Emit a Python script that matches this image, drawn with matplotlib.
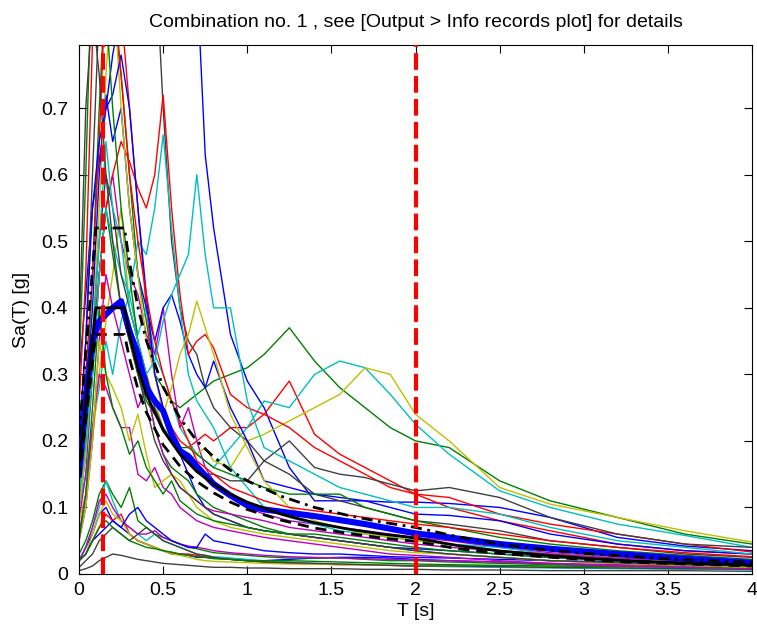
import matplotlib
matplotlib.use("Agg")
import matplotlib.pyplot as plt
import numpy as np

plt.rcParams['font.family'] = ['Liberation Sans', 'DejaVu Sans']

# Period grid of the record spectra [s]
T = [0, .04, .08, .12, .16, .2, .25, .3, .35, .4, .45, .5, .55, .6, .65, .7, .75, .8,
     .9, 1.0, 1.1, 1.25, 1.4, 1.55, 1.7, 1.85, 2.0, 2.2, 2.5, 2.8, 3.2, 3.6, 4.0]

# Record spectra Sa(T) [g]  (values > 0.8 are clipped by the axes)
rec_b1 = [0.30, 0.42, 0.55, 0.62, 0.70, 0.78, 0.85, 0.95, 1.05, 1.10, 1.20, 1.30, 1.35, 1.30, 1.15, 0.90, 0.63, 0.52, 0.36, 0.29, 0.25, 0.16, 0.11, 0.11, 0.11, 0.108, 0.108, 0.106, 0.10, 0.085, 0.055, 0.042, 0.035]
rec_g1 = [0.15, 0.25, 0.45, 0.70, 0.90, 0.85, 0.75, 0.60, 0.45, 0.38, 0.30, 0.28, 0.26, 0.25, 0.26, 0.27, 0.28, 0.29, 0.30, 0.31, 0.33, 0.37, 0.32, 0.28, 0.25, 0.22, 0.20, 0.19, 0.14, 0.11, 0.085, 0.06, 0.045]
rec_r1 = [0.20, 0.30, 0.45, 0.65, 0.90, 1.00, 0.85, 0.70, 0.55, 0.40, 0.30, 0.25, 0.22, 0.20, 0.19, 0.20, 0.21, 0.20, 0.22, 0.22, 0.24, 0.29, 0.21, 0.18, 0.16, 0.14, 0.12, 0.10, 0.08, 0.065, 0.045, 0.035, 0.03]
rec_c1 = [0.10, 0.15, 0.22, 0.28, 0.35, 0.30, 0.38, 0.42, 0.36, 0.40, 0.33, 0.30, 0.26, 0.22, 0.20, 0.18, 0.17, 0.16, 0.19, 0.22, 0.26, 0.25, 0.30, 0.32, 0.31, 0.27, 0.225, 0.18, 0.125, 0.10, 0.075, 0.058, 0.04]
rec_m1 = [0.08, 0.15, 0.30, 0.45, 0.55, 0.60, 0.50, 0.45, 0.42, 0.36, 0.33, 0.40, 0.30, 0.22, 0.25, 0.20, 0.16, 0.14, 0.12, 0.10, 0.09, 0.08, 0.075, 0.07, 0.065, 0.06, 0.055, 0.05, 0.04, 0.032, 0.025, 0.02, 0.017]
rec_y1 = [0.08, 0.12, 0.20, 0.30, 0.38, 0.45, 0.55, 0.40, 0.35, 0.30, 0.26, 0.22, 0.20, 0.18, 0.17, 0.18, 0.19, 0.17, 0.16, 0.20, 0.21, 0.23, 0.25, 0.27, 0.31, 0.30, 0.24, 0.20, 0.13, 0.105, 0.085, 0.065, 0.048]
rec_k1 = [0.20, 0.35, 0.60, 0.85, 0.95, 0.90, 0.85, 0.80, 0.90, 1.00, 0.95, 0.70, 0.50, 0.40, 0.35, 0.33, 0.28, 0.25, 0.22, 0.20, 0.17, 0.15, 0.12, 0.11, 0.10, 0.09, 0.08, 0.075, 0.065, 0.05, 0.04, 0.03, 0.025]
rec_b2 = [0.15, 0.25, 0.40, 0.60, 0.72, 0.65, 0.70, 0.55, 0.45, 0.40, 0.35, 0.40, 0.42, 0.38, 0.33, 0.30, 0.28, 0.32, 0.25, 0.20, 0.14, 0.13, 0.12, 0.115, 0.11, 0.10, 0.09, 0.088, 0.08, 0.06, 0.045, 0.035, 0.03]
rec_g2 = [0.10, 0.18, 0.30, 0.45, 0.55, 0.48, 0.40, 0.35, 0.30, 0.26, 0.24, 0.22, 0.20, 0.19, 0.19, 0.18, 0.17, 0.16, 0.15, 0.14, 0.13, 0.12, 0.12, 0.12, 0.10, 0.09, 0.08, 0.07, 0.055, 0.045, 0.035, 0.028, 0.022]
rec_r2 = [0.18, 0.25, 0.35, 0.45, 0.55, 0.60, 0.65, 0.62, 0.58, 0.55, 0.60, 0.72, 0.55, 0.42, 0.33, 0.35, 0.36, 0.34, 0.27, 0.25, 0.24, 0.22, 0.19, 0.17, 0.15, 0.13, 0.12, 0.115, 0.09, 0.075, 0.06, 0.045, 0.033]
rec_c2 = [0.10, 0.18, 0.30, 0.45, 0.55, 0.50, 0.45, 0.42, 0.50, 0.48, 0.55, 0.66, 0.52, 0.40, 0.30, 0.26, 0.24, 0.22, 0.16, 0.13, 0.10, 0.085, 0.075, 0.065, 0.06, 0.055, 0.05, 0.045, 0.04, 0.03, 0.025, 0.02, 0.017]
rec_m2 = [0.06, 0.12, 0.22, 0.30, 0.28, 0.25, 0.22, 0.22, 0.15, 0.14, 0.16, 0.13, 0.12, 0.10, 0.09, 0.08, 0.075, 0.07, 0.065, 0.06, 0.055, 0.05, 0.045, 0.04, 0.035, 0.03, 0.028, 0.025, 0.02, 0.016, 0.012, 0.01, 0.008]
rec_y2 = [0.10, 0.18, 0.35, 0.55, 0.75, 0.90, 0.70, 0.55, 0.45, 0.35, 0.30, 0.24, 0.28, 0.33, 0.36, 0.41, 0.37, 0.33, 0.24, 0.19, 0.14, 0.10, 0.08, 0.07, 0.06, 0.055, 0.05, 0.045, 0.035, 0.03, 0.025, 0.02, 0.018]
rec_k2 = [0.12, 0.20, 0.35, 0.50, 0.60, 0.55, 0.45, 0.40, 0.35, 0.30, 0.25, 0.22, 0.20, 0.18, 0.17, 0.16, 0.15, 0.15, 0.14, 0.14, 0.17, 0.20, 0.16, 0.15, 0.145, 0.135, 0.125, 0.13, 0.115, 0.085, 0.06, 0.045, 0.04]
rec_b3 = [0.20, 0.35, 0.55, 0.65, 0.70, 0.72, 0.78, 0.70, 0.55, 0.42, 0.30, 0.25, 0.20, 0.18, 0.15, 0.12, 0.10, 0.09, 0.08, 0.07, 0.065, 0.06, 0.055, 0.05, 0.045, 0.04, 0.038, 0.035, 0.03, 0.025, 0.02, 0.017, 0.015]
rec_g3 = [0.30, 0.60, 0.95, 1.00, 0.85, 0.70, 0.55, 0.45, 0.35, 0.28, 0.22, 0.18, 0.16, 0.15, 0.14, 0.12, 0.11, 0.10, 0.09, 0.08, 0.07, 0.06, 0.055, 0.05, 0.045, 0.04, 0.035, 0.03, 0.025, 0.02, 0.016, 0.013, 0.01]
rec_r3 = [0.25, 0.45, 0.80, 0.95, 1.10, 0.90, 0.75, 0.60, 0.50, 0.42, 0.35, 0.30, 0.26, 0.23, 0.20, 0.17, 0.16, 0.15, 0.13, 0.12, 0.11, 0.10, 0.095, 0.09, 0.085, 0.08, 0.075, 0.07, 0.06, 0.05, 0.04, 0.032, 0.026]
rec_c3 = [0.12, 0.20, 0.35, 0.50, 0.65, 0.55, 0.50, 0.40, 0.35, 0.30, 0.32, 0.38, 0.42, 0.45, 0.48, 0.60, 0.48, 0.40, 0.40, 0.26, 0.19, 0.17, 0.15, 0.13, 0.12, 0.11, 0.10, 0.10, 0.09, 0.07, 0.05, 0.04, 0.03]
rec_m3 = [0.05, 0.10, 0.20, 0.35, 0.45, 0.40, 0.35, 0.30, 0.25, 0.28, 0.22, 0.18, 0.15, 0.13, 0.12, 0.11, 0.10, 0.095, 0.09, 0.085, 0.08, 0.07, 0.065, 0.06, 0.055, 0.05, 0.045, 0.04, 0.035, 0.03, 0.024, 0.02, 0.016]
rec_y3 = [0.05, 0.10, 0.20, 0.35, 0.30, 0.28, 0.25, 0.20, 0.24, 0.18, 0.13, 0.14, 0.15, 0.14, 0.12, 0.10, 0.09, 0.08, 0.07, 0.065, 0.06, 0.055, 0.05, 0.045, 0.04, 0.035, 0.032, 0.03, 0.025, 0.02, 0.016, 0.013, 0.01]
rec_k3 = [0.35, 0.70, 0.85, 0.75, 0.60, 0.50, 0.40, 0.35, 0.30, 0.25, 0.20, 0.17, 0.15, 0.13, 0.12, 0.11, 0.10, 0.09, 0.08, 0.07, 0.065, 0.06, 0.055, 0.05, 0.045, 0.04, 0.035, 0.03, 0.025, 0.02, 0.017, 0.014, 0.012]
rec_g4 = [0.05, 0.12, 0.25, 0.40, 0.30, 0.25, 0.22, 0.18, 0.20, 0.16, 0.14, 0.12, 0.14, 0.11, 0.10, 0.09, 0.085, 0.08, 0.075, 0.07, 0.065, 0.06, 0.06, 0.055, 0.05, 0.045, 0.04, 0.035, 0.03, 0.025, 0.02, 0.016, 0.014]
lo_b = [0.02, 0.04, 0.06, 0.09, 0.10, 0.08, 0.07, 0.06, 0.05, 0.045, 0.04, 0.035, 0.03, 0.03, 0.028, 0.025, 0.025, 0.024, 0.022, 0.02, 0.02, 0.022, 0.024, 0.025, 0.025, 0.024, 0.022, 0.02, 0.018, 0.015, 0.012, 0.01, 0.009]
lo_g = [0.03, 0.05, 0.08, 0.12, 0.14, 0.12, 0.10, 0.13, 0.08, 0.07, 0.06, 0.055, 0.05, 0.045, 0.04, 0.038, 0.035, 0.032, 0.03, 0.028, 0.026, 0.024, 0.024, 0.024, 0.022, 0.02, 0.02, 0.018, 0.016, 0.014, 0.012, 0.01, 0.009]
lo_r = [0.02, 0.03, 0.05, 0.07, 0.09, 0.08, 0.09, 0.06, 0.05, 0.045, 0.04, 0.035, 0.032, 0.03, 0.03, 0.028, 0.026, 0.024, 0.022, 0.02, 0.018, 0.016, 0.015, 0.014, 0.014, 0.013, 0.012, 0.012, 0.011, 0.01, 0.009, 0.008, 0.007]
lo_c = [0.02, 0.04, 0.07, 0.10, 0.14, 0.11, 0.08, 0.07, 0.06, 0.05, 0.06, 0.05, 0.045, 0.04, 0.035, 0.03, 0.028, 0.026, 0.024, 0.022, 0.02, 0.018, 0.016, 0.015, 0.014, 0.013, 0.012, 0.011, 0.01, 0.009, 0.008, 0.007, 0.006]
lo_m = [0.02, 0.04, 0.07, 0.11, 0.12, 0.10, 0.08, 0.07, 0.06, 0.06, 0.065, 0.055, 0.05, 0.045, 0.042, 0.04, 0.038, 0.035, 0.032, 0.03, 0.028, 0.026, 0.025, 0.024, 0.023, 0.022, 0.021, 0.02, 0.018, 0.016, 0.014, 0.012, 0.011]
lo_y = [0.02, 0.03, 0.06, 0.09, 0.11, 0.09, 0.08, 0.06, 0.05, 0.045, 0.04, 0.035, 0.03, 0.028, 0.025, 0.022, 0.02, 0.019, 0.018, 0.017, 0.016, 0.015, 0.015, 0.014, 0.014, 0.013, 0.013, 0.012, 0.012, 0.011, 0.01, 0.009, 0.008]
lo_k = [0.01, 0.02, 0.03, 0.05, 0.06, 0.07, 0.06, 0.05, 0.06, 0.07, 0.06, 0.05, 0.045, 0.04, 0.035, 0.03, 0.028, 0.025, 0.022, 0.02, 0.018, 0.017, 0.016, 0.015, 0.014, 0.013, 0.012, 0.012, 0.011, 0.01, 0.009, 0.008, 0.007]
lo_b2 = [0.02, 0.03, 0.05, 0.06, 0.07, 0.08, 0.07, 0.09, 0.10, 0.08, 0.07, 0.06, 0.05, 0.045, 0.04, 0.04, 0.06, 0.05, 0.045, 0.04, 0.035, 0.032, 0.03, 0.03, 0.028, 0.026, 0.025, 0.024, 0.022, 0.02, 0.018, 0.016, 0.014]
lo_g2 = [0.02, 0.03, 0.05, 0.07, 0.08, 0.07, 0.06, 0.05, 0.045, 0.04, 0.038, 0.035, 0.033, 0.03, 0.028, 0.026, 0.025, 0.023, 0.022, 0.02, 0.02, 0.02, 0.019, 0.018, 0.017, 0.016, 0.015, 0.014, 0.013, 0.012, 0.011, 0.01, 0.009]
lo_k2 = [0.005, 0.008, 0.012, 0.02, 0.025, 0.03, 0.028, 0.025, 0.022, 0.02, 0.018, 0.016, 0.015, 0.014, 0.013, 0.012, 0.011, 0.01, 0.01, 0.009, 0.009, 0.008, 0.008, 0.008, 0.007, 0.007, 0.007, 0.006, 0.006, 0.005, 0.005, 0.005, 0.004]

# Mean spectrum of the combination [g]
mean_sa = [0.15, 0.26, 0.35, 0.38, 0.39, 0.40, 0.41, 0.365, 0.33, 0.28, 0.26, 0.245, 0.21, 0.185, 0.177, 0.162, 0.148, 0.135, 0.118, 0.103, 0.097, 0.092, 0.087, 0.081, 0.075, 0.068, 0.061, 0.055, 0.045, 0.038, 0.03, 0.023, 0.017]

# Target spectrum and tolerance bounds
T_tgt = [0, 0.1, 0.27, 0.3, 0.35, 0.4, 0.5, 0.6, 0.7, 0.8, 0.9, 1.0, 1.2, 1.4, 1.6, 1.8, 2.0, 2.25, 2.5, 2.75, 3.0, 3.25, 3.5, 3.75, 4.0]
target = [0.16, 0.40, 0.40, 0.36, 0.309, 0.27, 0.216, 0.18, 0.154, 0.135, 0.12, 0.108, 0.09, 0.077, 0.0675, 0.06, 0.054, 0.0427, 0.0346, 0.0286, 0.024, 0.0204, 0.0176, 0.0154, 0.0135]
lower = [0.144, 0.36, 0.36, 0.324, 0.278, 0.243, 0.194, 0.162, 0.139, 0.122, 0.108, 0.097, 0.081, 0.069, 0.061, 0.054, 0.049, 0.038, 0.031, 0.026, 0.022, 0.018, 0.016, 0.014, 0.012]
upper = [0.208, 0.52, 0.52, 0.468, 0.401, 0.351, 0.281, 0.234, 0.20, 0.176, 0.156, 0.140, 0.117, 0.10, 0.088, 0.078, 0.070, 0.056, 0.045, 0.037, 0.031, 0.027, 0.023, 0.020, 0.0176]

# Period range limits for matching
T_limits = [0.14, 2.0]

# MATLAB-like colours
C = {'b': (0, 0, 1), 'g': (0, 0.5, 0), 'r': (1, 0, 0), 'c': (0, 0.75, 0.75),
     'm': (0.75, 0, 0.75), 'y': (0.75, 0.75, 0), 'k': (0.25, 0.25, 0.25)}

records = [
    (lo_k2, 'k'), (lo_b, 'b'), (lo_g, 'g'), (lo_r, 'r'), (lo_c, 'c'), (lo_m, 'm'), (lo_y, 'y'),
    (lo_k, 'k'), (lo_b2, 'b'), (lo_g2, 'g'),
    (rec_b1, 'b'), (rec_g1, 'g'), (rec_r1, 'r'), (rec_c1, 'c'), (rec_m1, 'm'), (rec_y1, 'y'), (rec_k1, 'k'),
    (rec_b2, 'b'), (rec_g2, 'g'), (rec_r2, 'r'), (rec_c2, 'c'), (rec_m2, 'm'), (rec_y2, 'y'), (rec_k2, 'k'),
    (rec_b3, 'b'), (rec_g3, 'g'), (rec_r3, 'r'), (rec_c3, 'c'), (rec_m3, 'm'), (rec_y3, 'y'), (rec_k3, 'k'),
    (rec_g4, 'g'),
]

FS = 14

fig = plt.figure(figsize=(7.57, 6.28), dpi=100)
ax = fig.add_axes([0.1044, 0.086, 0.889, 0.8423])

for vals, col in records:
    ax.plot(T, vals, color=C[col], lw=1.0)

ax.plot(T, mean_sa, color=(0, 0, 1), lw=4.4, zorder=5)
ax.plot(T_tgt, target, color='k', lw=2.0, zorder=6)
ax.plot(T_tgt, lower, color='k', lw=2.0, ls=(0, (4, 2.5)), zorder=6)
ax.plot(T_tgt, upper, color='k', lw=2.0, ls=(0, (4, 2, 1, 2)), zorder=6)

for tl in T_limits:
    ax.axvline(tl, color='r', lw=3.0, ls=(0, (4, 1.5)), zorder=7)

ax.set_xlim(0, 4)
ax.set_ylim(0, 0.795)
ax.set_xticks([0, 0.5, 1, 1.5, 2, 2.5, 3, 3.5, 4])
ax.set_xticklabels(['0', '0.5', '1', '1.5', '2', '2.5', '3', '3.5', '4'])
ax.set_yticks([0, 0.1, 0.2, 0.3, 0.4, 0.5, 0.6, 0.7])
ax.set_yticklabels(['0', '0.1', '0.2', '0.3', '0.4', '0.5', '0.6', '0.7'])
ax.tick_params(direction='in', top=True, right=True, labelsize=FS, length=6, width=0.8)
ax.tick_params(axis='y', pad=8)
ax.tick_params(axis='x', pad=6)
for s in ax.spines.values():
    s.set_linewidth(0.8)

ax.set_xlabel('T [s]', fontsize=FS, labelpad=3)
ax.set_ylabel('Sa(T) [g]', fontsize=FS, labelpad=8)
ax.set_title('Combination no. 1 , see [Output > Info records plot] for details', fontsize=FS, pad=13)

fig.savefig('out.png', dpi=100)
